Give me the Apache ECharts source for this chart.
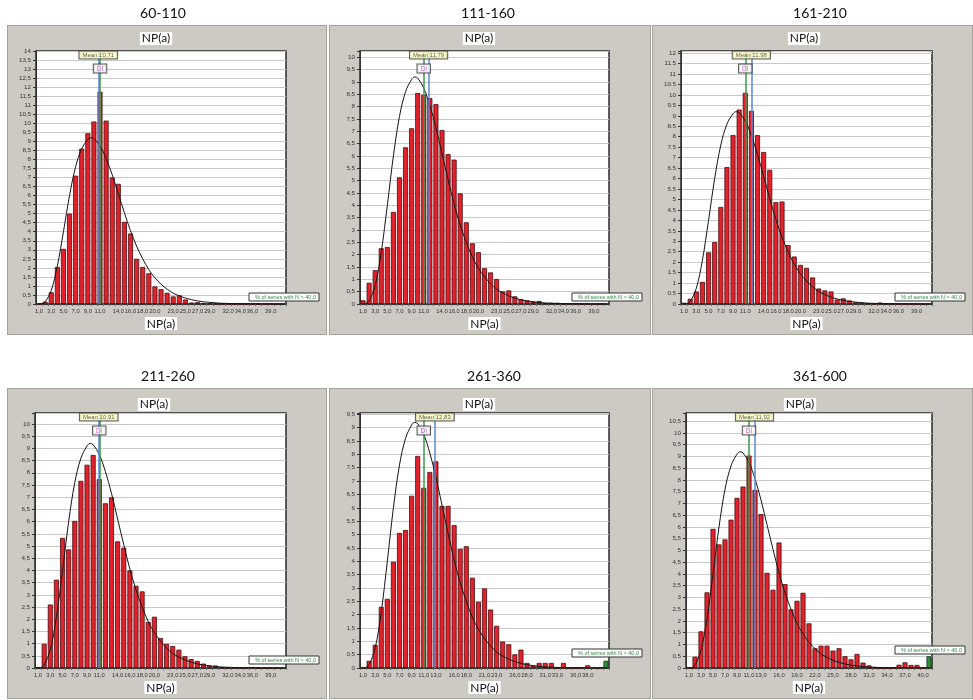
<!DOCTYPE html>
<html><head><meta charset="utf-8">
<script src="https://cdn.jsdelivr.net/npm/echarts@6/dist/echarts.min.js"></script>
<style>
html,body{margin:0;padding:0;background:#fff}
#wrap{position:relative;width:973px;height:700px;overflow:hidden}
.panel{position:absolute;background:#cdcac3;border:1px solid #a6a29a;box-sizing:border-box}
#c{position:absolute;left:0;top:0;width:973px;height:700px}
</style>
</head><body>
<div id="wrap">
<div class="panel" style="left:7px;top:25px;width:320px;height:310px"></div>
<div class="panel" style="left:329px;top:25px;width:322px;height:310px"></div>
<div class="panel" style="left:652px;top:25px;width:321px;height:310px"></div>
<div class="panel" style="left:7px;top:388px;width:320px;height:311px"></div>
<div class="panel" style="left:329px;top:388px;width:322px;height:311px"></div>
<div class="panel" style="left:652px;top:388px;width:321px;height:311px"></div>
<div id="c"></div>
</div>
<script>
// ---------------- data ----------------
const panelTitles = ['60-110', '111-160', '161-210', '211-260', '261-360', '361-600'];
const decimalSep = [',', ',', '.', ',', ',', ','];
const categories = [1,2,3,4,5,6,7,8,9,10,11,12,13,14,15,16,17,18,19,20,21,22,23,24,25,26,27,28,29,30,31,32,33,34,35,36,37,38,39,40,41];

const bins60_110  = [0,0.13,0.65,2.05,3.05,5.0,7.1,8.6,9.45,10.1,11.75,10.15,7.0,6.65,4.55,3.9,2.5,2.05,1.7,0.97,0.82,0.62,0.42,0.48,0.25,0.08,0.1,0.05,0.03,0.02,0.01,0.02,0.01,0.02,0,0,0,0,0,0];
const bins111_160 = [0.15,0.86,1.37,2.26,2.31,3.73,5.13,6.35,7.12,8.55,8.47,8.34,8.1,7.05,6.07,5.85,4.48,3.31,2.46,2.1,1.45,1.28,1.01,0.51,0.55,0.31,0.2,0.15,0.1,0.12,0.04,0.05,0.05,0.02,0.02,0.01,0,0,0,0];
const bins161_210 = [0.06,0.25,0.6,1.06,2.47,2.96,4.64,6.55,8.08,9.3,10.1,9.24,8.08,7.27,6.42,4.87,4.9,2.82,2.27,1.87,1.73,1.27,0.74,0.65,0.6,0.21,0.27,0.17,0.08,0.07,0.03,0.02,0.07,0.02,0.01,0,0,0,0,0];
const bins211_260 = [0.03,0.99,2.6,3.62,5.33,4.86,6.03,7.67,8.33,8.73,7.74,6.75,6.99,5.19,4.93,4.0,3.37,3.14,1.89,2.1,1.23,0.99,0.9,0.75,0.48,0.37,0.29,0.18,0.1,0.1,0.02,0.01,0.02,0.03,0.01,0.04,0.01,0,0.01,0];
const bins261_360 = [0,0.27,0.87,2.29,2.59,3.98,5.06,5.17,6.45,7.94,6.75,7.34,7.74,6.07,6.07,5.35,4.46,4.56,3.38,2.48,2.98,2.19,1.58,0.99,0.89,0.51,0.69,0.19,0.09,0.19,0.19,0.19,0,0.19,0,0,0,0.1,0,0];
const bins361_600 = [0,0.48,1.56,3.22,5.92,5.26,5.47,6.31,7.24,7.72,9.04,7.58,6.55,4.05,3.33,5.34,3.57,2.49,2.86,3.2,1.9,0.84,0.95,0.95,0.74,0.84,0.5,0.37,0.6,0.23,0.11,0.02,0,0,0,0.14,0.24,0.13,0.13,0];
const over40 = [0, 0, 0, 0, 0.27, 0.5];

const meanValues = [10.71, 11.79, 11.98, 10.91, 12.83, 11.92];
const diValues = [11, 11, 11, 11, 11, 11];
const yMaxValues = [14, 10.25, 12.1, 10.45, 9.55, 10.85];

const fitCurve = [[1,0],[1.5,0.02],[2,0.12],[3,0.75],[4,2.1],[5,4.0],[6,6.0],[7,7.6],[8,8.6],[9,9.1],[9.5,9.2],[10,9.15],[11,8.75],[12,8.05],[13,7.15],[14,6.1],[15,5.05],[16,4.05],[17,3.2],[18,2.5],[19,1.9],[20,1.45],[21,1.1],[22,0.82],[23,0.6],[24,0.45],[25,0.33],[26,0.24],[27,0.17],[28,0.12],[29,0.09],[30,0.06],[31,0.04],[32,0.03],[33,0.02],[34,0.015],[35,0.01],[36,0.01],[37,0.005],[38,0],[39,0],[40,0],[41,0]];

const tickLabelsA = [1,3,5,7,9,11,14,16,18,20,23,25,27,29,32,34,36,39];
const tickLabelsB = [1,3,5,7,9,11,13,16,18,21,23,26,28,31,33,36,38];
const tickLabelsC = [1,3,5,7,9,11,13,16,19,22,25,28,31,34,37,40];

const binsByPanel = [bins60_110, bins111_160, bins161_210, bins211_260, bins261_360, bins361_600];
const tickLabelsByPanel = [tickLabelsA, tickLabelsA, tickLabelsA, tickLabelsA, tickLabelsB, tickLabelsC];

// ---------------- layout ----------------
const gridBoxes = [
  {left:36, top:51, width:250, height:253},
  {left:360, top:51, width:249, height:253},
  {left:681, top:51, width:251, height:253},
  {left:35, top:413, width:251, height:255},
  {left:360, top:413, width:249, height:255},
  {left:686, top:413, width:246, height:255}
];
const titlePos = [[163,13],[488,13],[820,13],[168,376],[494,376],[820,376]];
const innerTitlePos = [[156,38.5],[479,38.5],[804,38.5],[154,404.5],[479,404.5],[800,404.5]];
const legendPos = [[249,293],[572,293],[895,293],[249,656],[572,649],[895,646]];

const AXIS_FONT = '"Liberation Sans", Arial, sans-serif';

function fmtNum(v, sep, decimals) {
  let s;
  if (decimals != null) s = v.toFixed(decimals);
  else s = Number.isInteger(v) ? String(v) : v.toFixed(1);
  return s.replace('.', sep);
}

const option = {
  animation: false,
  backgroundColor: 'transparent',
  grid: [], xAxis: [], yAxis: [], series: [], legend: [], graphic: []
};

panelTitles.forEach((pt, i) => {
  const sep = decimalSep[i];
  const overName = '% of series with N > ' + fmtNum(40, sep, 1);
  const yMax = yMaxValues[i];
  const labelSet = tickLabelsByPanel[i];

  option.grid.push(Object.assign({
    show: true, backgroundColor: '#ffffff', borderColor: '#2a2a2a', borderWidth: 1.5
  }, gridBoxes[i]));

  // category axis for the histogram bins
  option.xAxis.push({
    type: 'category', gridIndex: i,
    data: categories.map(c => fmtNum(c, sep, 1)),
    boundaryGap: true,
    name: 'NP(a)', nameLocation: 'middle', nameGap: 13,
    nameTextStyle: { fontFamily: 'Lato, sans-serif', fontSize: 12, color: '#111', backgroundColor: '#fff', padding: [1, 2, 0, 2] },
    axisLine: { show: true, lineStyle: { color: '#333', width: 1 } },
    axisTick: { show: true, interval: 0, length: 2, lineStyle: { color: '#666' } },
    axisLabel: {
      interval: (idx) => labelSet.indexOf(categories[idx]) >= 0,
      hideOverlap: false,
      fontSize: 5.8, color: '#333', margin: 4, fontFamily: AXIS_FONT
    },
    splitLine: { show: false }
  });
  // hidden value axis on the same grid for the fit curve and reference lines
  option.xAxis.push({
    type: 'value', gridIndex: i, min: 0.5, max: 41.5, show: false,
    splitLine: { show: false }
  });

  option.yAxis.push({
    type: 'value', gridIndex: i, min: 0, max: yMax, interval: 0.5,
    axisLine: { show: true, lineStyle: { color: '#333', width: 1 } },
    axisTick: { show: true, length: 3, lineStyle: { color: '#333' } },
    axisLabel: {
      fontSize: 6.2, color: '#333', margin: 5, fontFamily: AXIS_FONT, hideOverlap: false,
      formatter: v => (Math.abs(v * 2 - Math.round(v * 2)) < 1e-6) ? fmtNum(Math.round(v * 2) / 2, sep) : ''
    },
    splitLine: { show: true, lineStyle: { color: '#c9c9c9', width: 1 } }
  });

  const bins = binsByPanel[i];
  option.series.push({
    name: 'NP(a)', type: 'bar', xAxisIndex: 2 * i, yAxisIndex: i,
    data: bins.slice(),
    barWidth: 5, barGap: '-100%',
    itemStyle: { color: '#e2222b', borderColor: '#4a0c10', borderWidth: 0.8 },
    z: 2
  });
  const overData = categories.map(() => '-');
  overData[categories.length - 1] = over40[i];
  option.series.push({
    name: overName, type: 'bar', xAxisIndex: 2 * i, yAxisIndex: i,
    data: overData,
    barWidth: 5, barGap: '-100%',
    itemStyle: { color: '#2f8a3c', borderColor: '#0f3314', borderWidth: 0.8 },
    z: 2
  });
  option.series.push({
    name: 'fit', type: 'line', xAxisIndex: 2 * i + 1, yAxisIndex: i,
    data: fitCurve, smooth: 0.35, symbol: 'none',
    lineStyle: { color: '#151515', width: 1 },
    z: 4, silent: true,
    markLine: {
      silent: true, symbol: 'none', label: { show: false }, animation: false,
      data: [
        { xAxis: meanValues[i], lineStyle: { color: '#5a88d8', width: 1.5, type: 'solid' } },
        { xAxis: diValues[i], lineStyle: { color: '#3d9a4c', width: 1.5, type: 'solid' } }
      ]
    }
  });
  option.series.push({
    name: 'labels', type: 'scatter', xAxisIndex: 2 * i + 1, yAxisIndex: i,
    symbolSize: 1, itemStyle: { color: 'rgba(0,0,0,0)' }, silent: true, z: 6,
    data: [
      { value: [meanValues[i], yMax], label: {
          show: true, position: 'bottom', distance: 0,
          formatter: 'Mean ' + fmtNum(meanValues[i], sep, 2),
          fontSize: 6, color: '#333', fontFamily: AXIS_FONT,
          backgroundColor: '#ffffc6', borderColor: '#333', borderWidth: 1, padding: [1, 3, 0, 3]
      } },
      { value: [diValues[i], yMax], label: {
          show: true, position: 'bottom', distance: 13,
          formatter: 'DI',
          fontSize: 6.5, color: '#c03cc8', fontFamily: AXIS_FONT,
          backgroundColor: '#ffffff', borderColor: '#333', borderWidth: 1, padding: [1, 3, 0, 3]
      } }
    ]
  });

  option.legend.push({
    data: [overName], left: legendPos[i][0], top: legendPos[i][1],
    itemWidth: 0, itemHeight: 0, itemGap: 0, selectedMode: false,
    padding: [1, 3, 1, 0], backgroundColor: '#ffffff', borderColor: '#333', borderWidth: 1,
    textStyle: { color: '#2e8a46', fontSize: 5.5, fontFamily: AXIS_FONT }
  });

  option.graphic.push({
    type: 'text', x: titlePos[i][0], y: titlePos[i][1], z: 100,
    style: { text: pt, font: '14px Lato, sans-serif', fill: '#111',
             align: 'center', textAlign: 'center', verticalAlign: 'middle', textVerticalAlign: 'middle' }
  });
  option.graphic.push({
    type: 'text', x: innerTitlePos[i][0], y: innerTitlePos[i][1], z: 100,
    style: { text: 'NP(a)', font: '12px Lato, sans-serif', fill: '#111',
             align: 'center', textAlign: 'center', verticalAlign: 'middle', textVerticalAlign: 'middle',
             backgroundColor: '#ffffff', padding: [1, 2, 0, 2] }
  });
});

const chart = echarts.init(document.getElementById('c'), null, { renderer: 'canvas' });
chart.setOption(option);
</script>
</body></html>
